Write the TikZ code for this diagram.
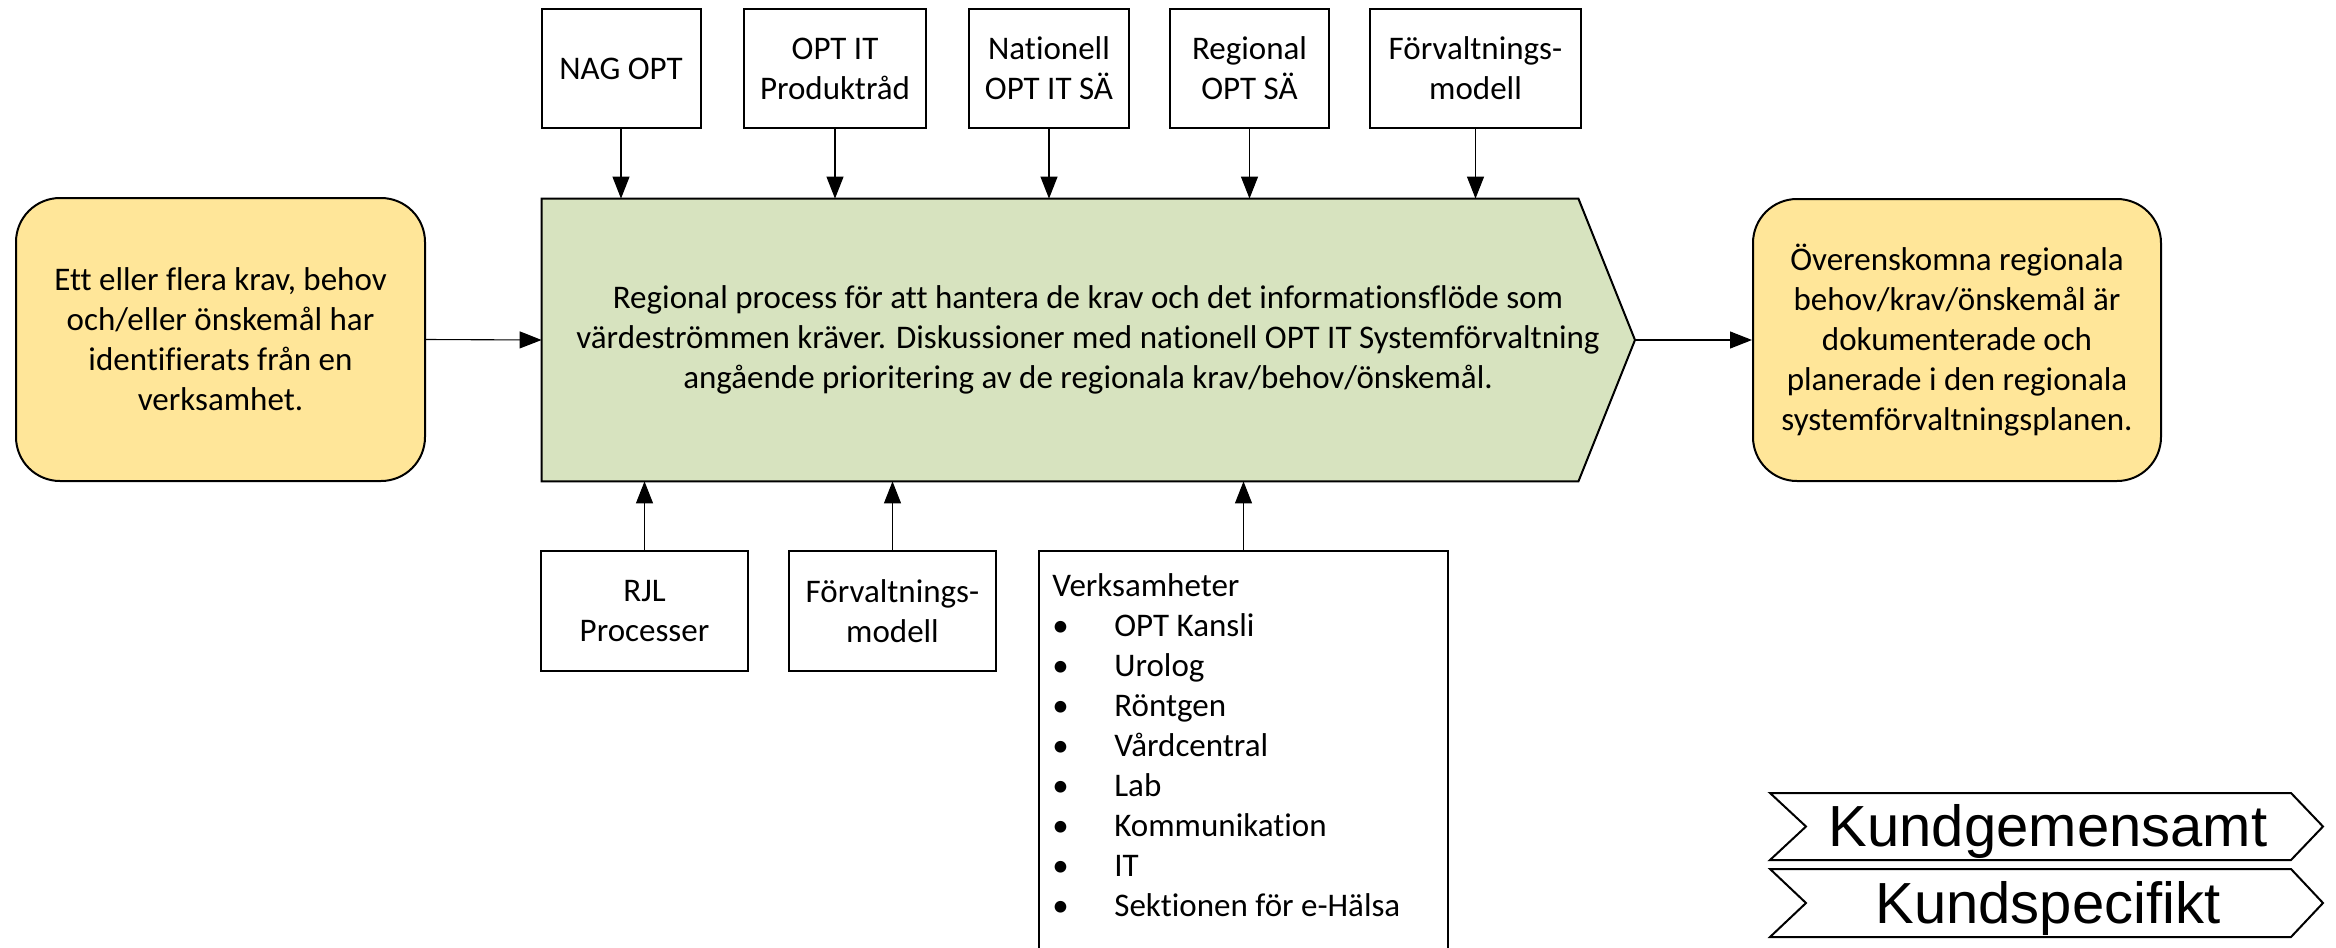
\documentclass[tikz,border=0pt]{standalone}
\usepackage{fontspec}
\setmainfont{Carlito}[Ligatures=NoCommon]
\newfontfamily\legendfont{Liberation Sans}
\usetikzlibrary{arrows.meta}
\definecolor{boxyellow}{HTML}{FFE699}
\definecolor{boxgreen}{HTML}{D7E3BF}
\newcommand{\bitem}[1]{\makebox[31pt][l]{\textbullet}#1}
\begin{document}
\begin{tikzpicture}[x=0.5pt,y=-0.5pt,
  font=\fontsize{16.5}{20}\selectfont,
  box/.style={draw, line width=1pt, align=center, inner sep=0pt},
  ybox/.style={box, fill=boxyellow, rounded corners=22pt},
  topbox/.style={box, minimum height=59.5pt},
  botbox/.style={box, minimum height=60pt},
  conn/.style={line width=0.55pt, -{Triangle[length=11pt,width=8.5pt]}},
  legshape/.style={draw, line width=1pt},
  legtext/.style={font=\legendfont\fontsize{29}{34}\selectfont, inner sep=0pt, anchor=base}]
\useasboundingbox (0,0) rectangle (2336,948);

% left and right boxes
\node[ybox, minimum width=204.5pt, minimum height=141.5pt] (src) at (220.5,339.5)
  {Ett eller flera krav, behov\\och/eller önskemål har\\identifierats från en\\verksamhet.};
\node[ybox, minimum width=204pt, minimum height=141pt] (dst) at (1957,340)
  {Överenskomna regionala\\behov/krav/önskemål är\\dokumenterade och\\planerade i den regionala\\systemförvaltningsplanen.};

% main process shape
\node[minimum width=518pt, minimum height=141pt, inner sep=0pt] (main) at (1060,340) {};
\coordinate (maintip) at (1635,340);
\draw[line width=1pt, fill=boxgreen] (main.north west) -- (main.north east) -- (maintip)
  -- (main.south east) -- (main.south west) -- cycle;
\node[align=center, inner sep=0pt] (maintext) at (1088,340)
  {Regional process för att hantera de krav och det informationsflöde som\\
   värdeströmmen kräver. Diskussioner med nationell OPT IT Systemförvaltning\\
   angående prioritering av de regionala krav/behov/önskemål.};

% top boxes
\node[topbox, minimum width=79.5pt] (t1) at (621,68.5) {NAG OPT};
\node[topbox, minimum width=91pt] (t2) at (835,68.5) {OPT IT\\Produktråd};
\node[topbox, minimum width=80pt] (t3) at (1049,68.5) {Nationell\\OPT IT SÄ};
\node[topbox, minimum width=79.5pt] (t4) at (1249.5,68.5) {Regional\\OPT SÄ};
\node[topbox, minimum width=105.5pt] (t5) at (1475.5,68.5) {Förvaltnings-\\modell};

% bottom boxes
\node[botbox, minimum width=103.5pt] (b1) at (644.5,611) {RJL\\Processer};
\node[botbox, minimum width=103.5pt] (b2) at (892.5,611) {Förvaltnings-\\modell};
\node[box, minimum width=204.5pt, minimum height=219.5pt] (b3) at (1243.5,770.5) {};
\node[anchor=north west, align=left, inner sep=0pt] (b3text) at (1052,573)
  {Verksamheter\\
   \bitem{OPT Kansli}\\
   \bitem{Urolog}\\
   \bitem{Röntgen}\\
   \bitem{Vårdcentral}\\
   \bitem{Lab}\\
   \bitem{Kommunikation}\\
   \bitem{IT}\\
   \bitem{Sektionen för e-Hälsa}};

% connectors
\draw[conn] (src.east) -- (main.west);
\draw[conn] (maintip) -- (dst.west);
\foreach \t in {t1,t2,t3,t4,t5}
  \draw[conn] (\t.south) -- (\t.south |- main.north);
\foreach \b in {b1,b2,b3}
  \draw[conn] (\b.north) -- (\b.north |- main.south);

% legend
\draw[legshape] (1770,793) -- (2291,793) -- (2323,826.5) -- (2291,860) -- (1770,860) -- (1806,826.5) -- cycle;
\node[legtext] (kg) at (2048,846) {Kundgemensamt};
\draw[legshape] (1770,869) -- (2291,869) -- (2323,903) -- (2291,937) -- (1770,937) -- (1806,903) -- cycle;
\node[legtext] (ks) at (2048,923) {Kundspecifikt};
\end{tikzpicture}
\end{document}
